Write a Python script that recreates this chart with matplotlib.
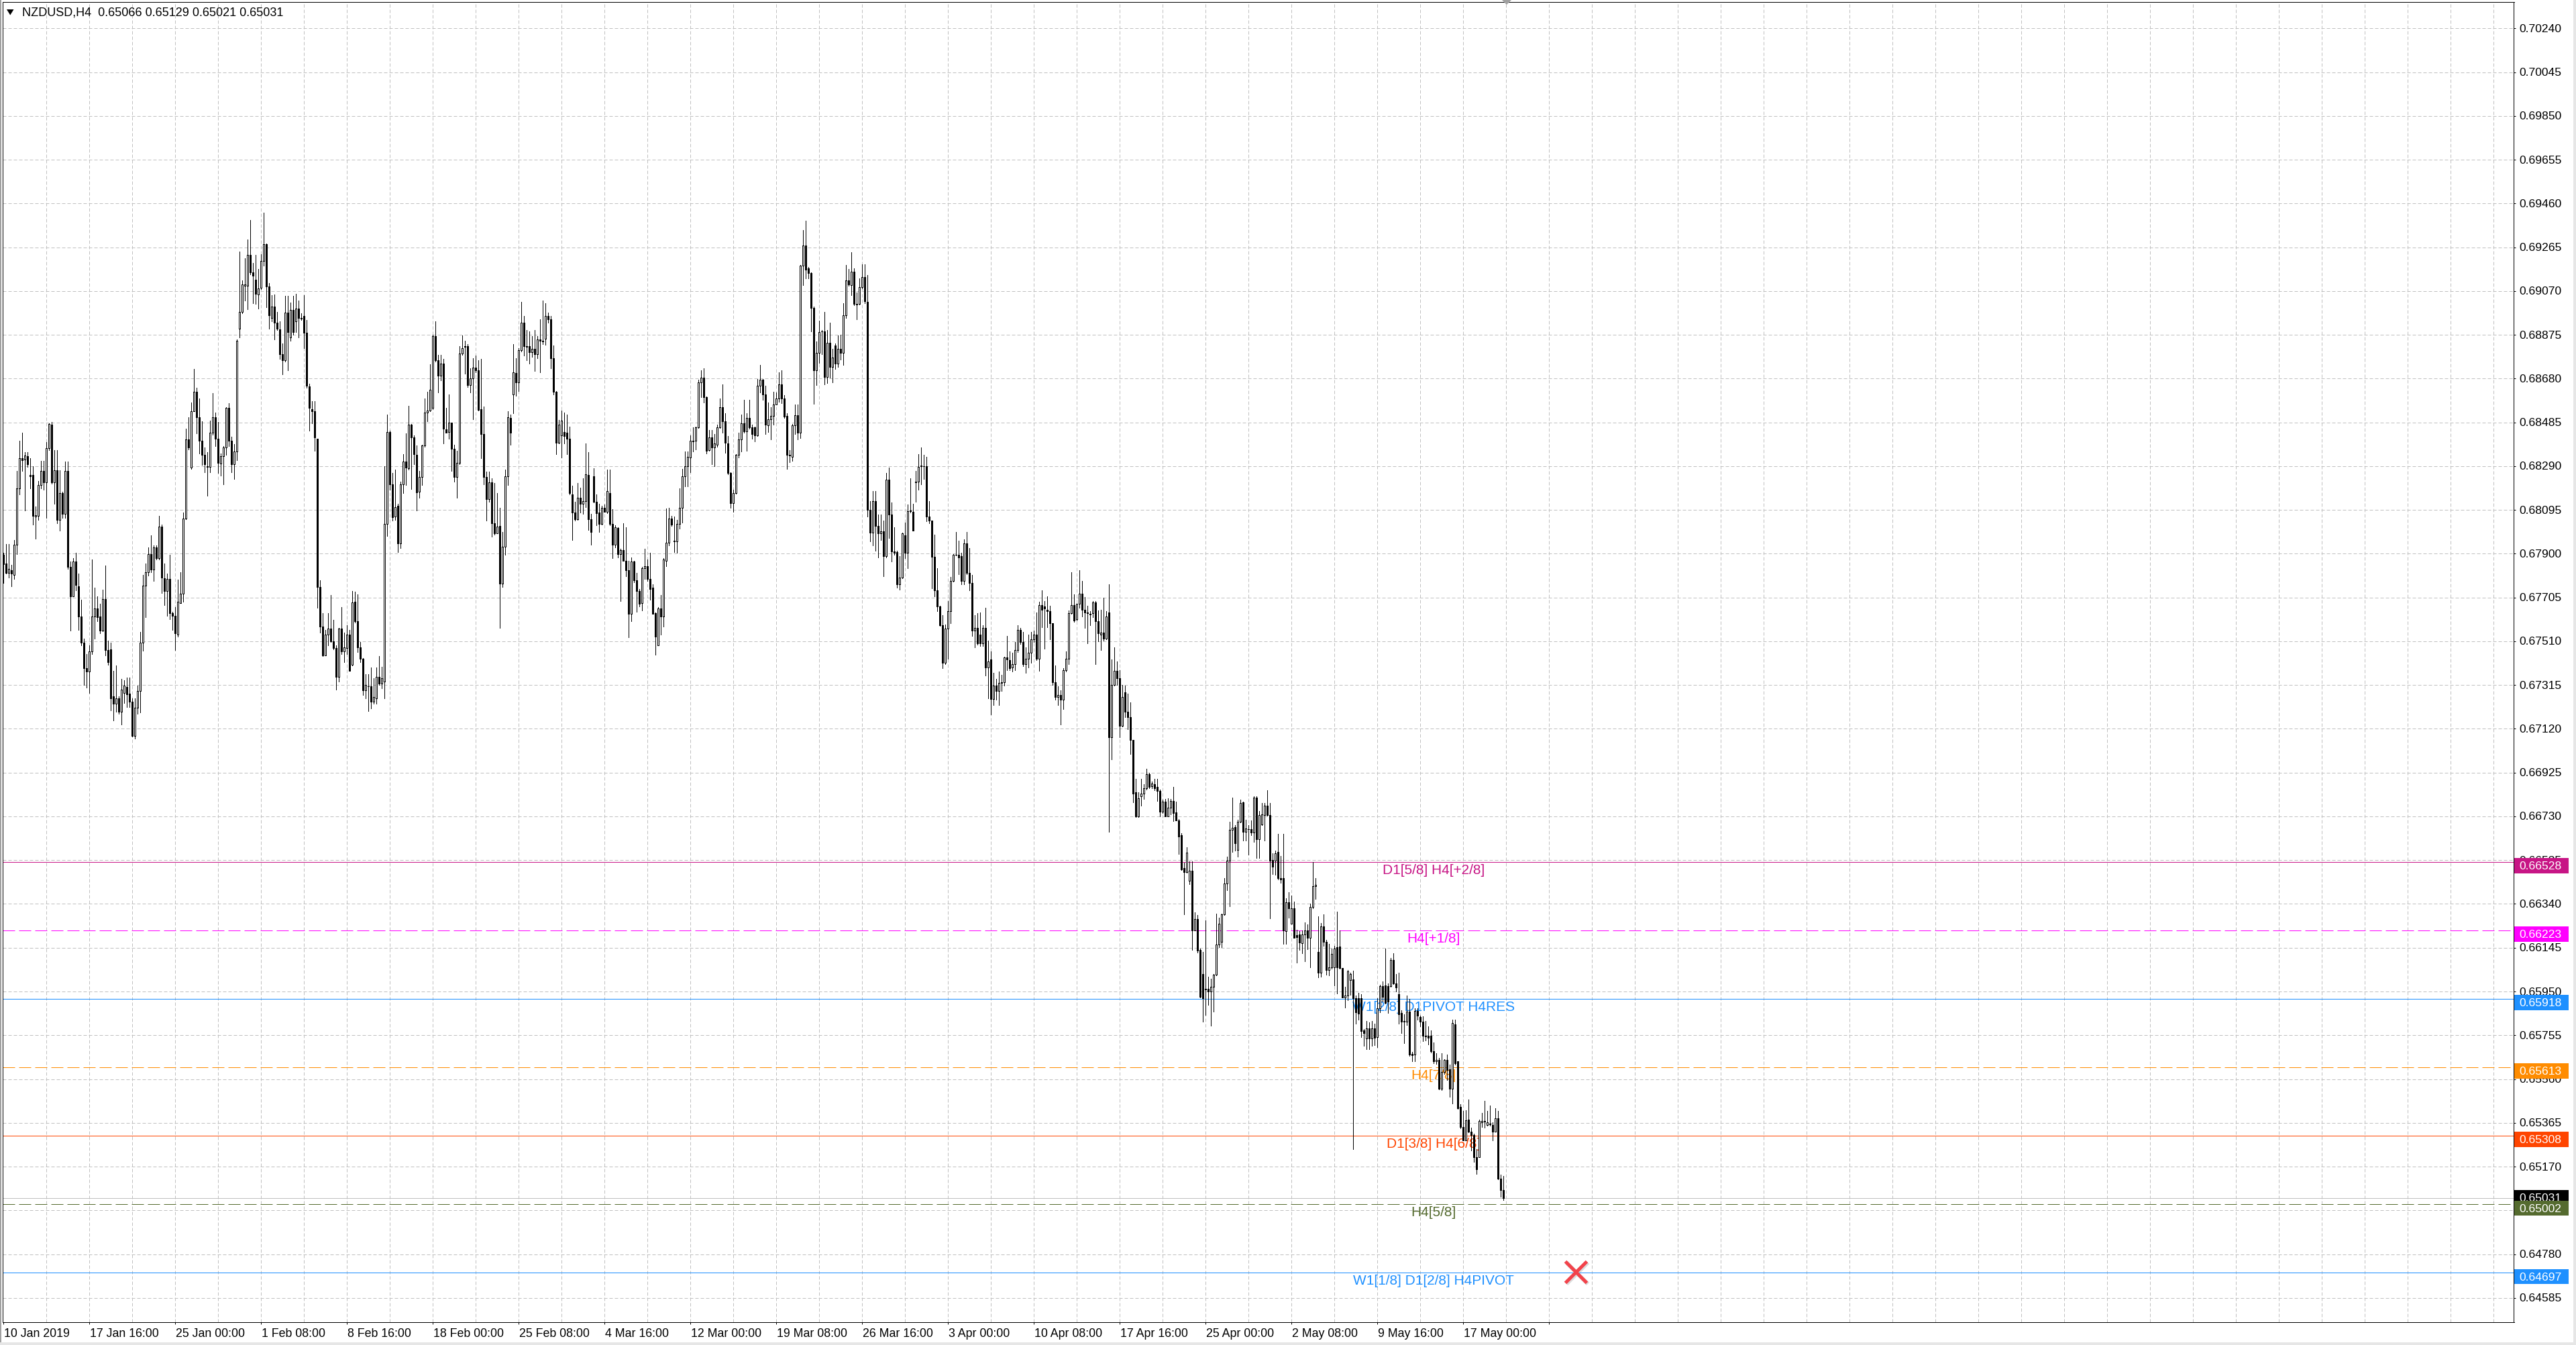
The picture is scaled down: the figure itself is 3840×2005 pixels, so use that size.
import numpy as np
import matplotlib
matplotlib.use("Agg")
import matplotlib.pyplot as plt
from matplotlib import transforms
from matplotlib.patches import Polygon, Rectangle

plt.rcParams['font.family'] = ['Liberation Sans', 'DejaVu Sans']

W, H, DPI = 3840, 2006, 100
PX = 72.0 / DPI          # one screen pixel in points

symbol = "NZDUSD,H4"

# H4 candles, prices in pips (price * 10000)
opens = [
    6789.6, 6785.8, 6781.6, 6782.7, 6780.6, 6794.1, 6819.0, 6832.6, 6832.1, 6833.4,
    6825.1, 6825.1, 6806.5, 6806.8, 6820.6, 6826.8, 6821.7, 6837.0, 6847.4, 6821.7,
    6827.1, 6805.0, 6817.0, 6807.9, 6826.8, 6784.2, 6771.0, 6786.6, 6775.6, 6762.1,
    6750.4, 6739.0, 6737.4, 6746.5, 6762.1, 6765.5, 6762.1, 6755.7, 6769.9, 6747.1,
    6747.5, 6726.5, 6723.1, 6725.7, 6719.5, 6728.1, 6730.7, 6727.6, 6724.2, 6708.9,
    6721.3, 6728.9, 6750.4, 6775.9, 6781.9, 6789.7, 6783.1, 6792.8, 6788.1, 6802.2,
    6779.0, 6773.3, 6778.8, 6763.5, 6762.4, 6754.1, 6768.1, 6772.2, 6805.6, 6840.9,
    6828.4, 6853.6, 6862.2, 6850.8, 6840.4, 6834.1, 6829.0, 6828.7, 6844.0, 6850.8,
    6841.2, 6830.2, 6833.4, 6837.3, 6854.9, 6840.4, 6829.9, 6835.7, 6890.3, 6897.6,
    6909.5, 6909.5, 6923.1, 6915.3, 6912.1, 6905.4, 6908.5, 6920.4, 6927.8, 6909.0,
    6895.0, 6900.1, 6893.0, 6889.8, 6878.9, 6876.2, 6897.3, 6886.4, 6898.6, 6893.4,
    6899.2, 6895.0, 6895.8, 6888.3, 6864.5, 6854.5, 6853.4, 6841.3, 6775.1, 6757.5,
    6744.6, 6754.0, 6756.8, 6751.0, 6747.9, 6735.2, 6756.8, 6746.4, 6747.9, 6754.0,
    6740.4, 6768.7, 6760.1, 6748.4, 6743.1, 6729.1, 6730.9, 6730.9, 6724.1, 6725.6,
    6735.2, 6732.1, 6733.2, 6803.2, 6844.3, 6821.0, 6806.7, 6811.3, 6794.5, 6821.0,
    6831.1, 6828.0, 6847.4, 6841.7, 6834.1, 6817.7, 6824.1, 6838.2, 6853.0, 6853.9,
    6855.0, 6886.9, 6876.3, 6869.4, 6874.7, 6845.4, 6844.3, 6848.4, 6836.7, 6824.1,
    6830.6, 6879.3, 6882.3, 6882.4, 6865.2, 6868.2, 6872.8, 6871.7, 6854.5, 6843.2,
    6824.1, 6814.3, 6821.9, 6803.6, 6799.1, 6802.4, 6776.6, 6793.0, 6824.5, 6850.4,
    6861.1, 6870.6, 6866.4, 6880.8, 6893.0, 6882.4, 6882.4, 6879.8, 6881.3, 6878.9,
    6885.4, 6884.9, 6885.9, 6896.0, 6894.5, 6877.0, 6862.1, 6839.3, 6842.8, 6844.3,
    6843.8, 6841.3, 6816.4, 6808.5, 6805.5, 6814.9, 6812.3, 6813.4, 6825.0, 6805.5,
    6824.5, 6813.1, 6808.4, 6803.3, 6810.5, 6808.6, 6817.0, 6803.3, 6793.9, 6801.4,
    6789.8, 6791.7, 6786.9, 6782.6, 6763.2, 6786.4, 6778.3, 6773.4, 6768.1, 6783.5,
    6784.5, 6778.7, 6774.8, 6763.5, 6749.3, 6765.7, 6762.1, 6786.9, 6795.0, 6805.7,
    6795.8, 6795.6, 6803.3, 6810.5, 6824.6, 6828.9, 6832.9, 6840.2, 6840.2, 6846.2,
    6866.2, 6868.4, 6859.7, 6836.1, 6841.9, 6837.3, 6838.4, 6846.2, 6855.4, 6848.9,
    6839.0, 6826.0, 6812.4, 6817.0, 6834.1, 6840.9, 6848.1, 6844.5, 6850.6, 6846.2,
    6846.2, 6842.8, 6864.8, 6867.4, 6861.1, 6847.1, 6850.0, 6851.5, 6856.4, 6859.3,
    6865.5, 6859.3, 6851.5, 6834.1, 6833.2, 6847.1, 6851.7, 6843.8, 6918.3, 6927.2,
    6917.1, 6915.1, 6899.5, 6871.7, 6879.5, 6888.9, 6889.1, 6868.8, 6883.9, 6873.1,
    6882.8, 6874.6, 6881.4, 6879.5, 6896.3, 6911.8, 6909.6, 6915.7, 6901.2, 6901.2,
    6908.9, 6913.2, 6902.1, 6809.5, 6799.4, 6813.4, 6802.3, 6799.0, 6800.0, 6788.8,
    6823.1, 6807.6, 6791.0, 6790.7, 6776.3, 6779.4, 6798.2, 6790.3, 6809.1, 6808.8,
    6822.0, 6822.0, 6829.0, 6829.0, 6829.0, 6806.6, 6804.8, 6788.7, 6773.7, 6766.5,
    6758.3, 6741.5, 6756.6, 6764.3, 6778.0, 6789.4, 6789.4, 6788.8, 6778.0, 6794.6,
    6781.4, 6777.1, 6755.7, 6756.9, 6754.0, 6750.1, 6756.9, 6739.4, 6742.9, 6725.4,
    6731.2, 6728.8, 6732.6, 6732.9, 6743.7, 6742.5, 6739.4, 6740.8, 6747.1, 6756.2,
    6750.6, 6740.8, 6743.2, 6745.9, 6751.8, 6754.0, 6743.2, 6767.2, 6766.5, 6765.1,
    6764.3, 6759.1, 6732.9, 6726.1, 6727.1, 6724.9, 6738.1, 6743.2, 6763.4, 6767.2,
    6760.8, 6767.7, 6772.3, 6765.1, 6763.7, 6763.1, 6763.4, 6768.2, 6760.0, 6754.0,
    6754.9, 6752.3, 6763.7, 6708.3, 6731.7, 6737.7, 6734.6, 6713.4, 6728.3, 6719.7,
    6717.2, 6707.2, 6683.8, 6673.0, 6682.1, 6683.3, 6685.5, 6691.8, 6686.4, 6687.2,
    6686.0, 6684.3, 6675.2, 6679.5, 6673.0, 6676.9, 6679.9, 6674.7, 6671.3, 6664.5,
    6650.0, 6648.3, 6644.4, 6648.7, 6622.1, 6627.3, 6613.6, 6602.7, 6596.0, 6596.1,
    6594.9, 6597.0, 6602.4, 6615.9, 6617.1, 6629.3, 6643.1, 6653.2, 6667.0, 6668.2,
    6658.2, 6670.7, 6679.3, 6666.1, 6667.4, 6667.4, 6665.7, 6681.5, 6662.7, 6669.5,
    6673.6, 6677.8, 6673.6, 6653.6, 6653.2, 6657.3, 6645.4, 6645.4, 6621.8, 6634.7,
    6625.3, 6632.2, 6620.0, 6620.3, 6616.5, 6620.3, 6622.1, 6618.8, 6632.6, 6641.9,
    6612.7, 6603.3, 6624.0, 6617.1, 6604.6, 6605.8, 6605.8, 6614.6, 6615.0, 6605.4,
    6592.4, 6593.3, 6600.2, 6600.4, 6592.0, 6592.0, 6592.0, 6577.6, 6574.0, 6578.6,
    6574.0, 6578.6, 6574.8, 6587.4, 6597.4, 6597.7, 6597.4, 6597.4, 6609.0, 6598.7,
    6593.9, 6585.4, 6582.0, 6581.6, 6586.1, 6567.3, 6566.9, 6586.4, 6583.6, 6581.6,
    6575.3, 6575.3, 6575.3, 6568.5, 6563.8, 6564.4, 6551.8, 6559.0, 6564.4, 6560.2,
    6551.8, 6580.3, 6563.8, 6543.7, 6534.6, 6528.8, 6538.0, 6532.4, 6531.1, 6521.3,
    6521.3, 6536.8, 6537.2, 6535.5, 6536.0, 6535.5, 6532.6, 6538.4, 6511.6, 6506.6,
]
highs = [
    6790.5, 6794.4, 6794.4, 6785.0, 6796.2, 6826.8, 6840.4, 6844.0, 6835.3, 6835.3,
    6832.6, 6829.1, 6811.2, 6822.5, 6831.5, 6831.5, 6839.6, 6848.2, 6848.6, 6836.2,
    6836.2, 6827.1, 6817.5, 6831.0, 6831.0, 6786.6, 6788.1, 6790.5, 6781.1, 6769.4,
    6752.2, 6745.2, 6749.1, 6787.3, 6774.9, 6771.0, 6767.8, 6774.1, 6784.7, 6751.4,
    6750.4, 6737.9, 6740.1, 6726.5, 6734.3, 6733.8, 6734.8, 6734.8, 6725.7, 6725.7,
    6731.2, 6755.1, 6780.6, 6785.8, 6792.8, 6798.3, 6793.6, 6793.6, 6806.8, 6802.9,
    6785.8, 6781.1, 6789.4, 6764.0, 6766.3, 6778.4, 6781.9, 6808.4, 6845.8, 6850.8,
    6857.5, 6872.4, 6863.8, 6859.1, 6849.0, 6837.3, 6835.3, 6849.3, 6861.7, 6852.9,
    6848.6, 6834.6, 6838.0, 6855.2, 6857.1, 6842.0, 6838.8, 6885.6, 6924.6, 6911.7,
    6921.5, 6930.1, 6938.7, 6919.5, 6923.1, 6916.8, 6923.5, 6941.8, 6928.2, 6910.6,
    6905.1, 6905.4, 6897.6, 6893.4, 6883.6, 6904.8, 6904.8, 6902.0, 6904.8, 6905.9,
    6902.8, 6897.0, 6905.1, 6894.2, 6865.6, 6858.0, 6858.0, 6841.3, 6778.1, 6763.6,
    6756.0, 6763.6, 6771.7, 6760.6, 6749.2, 6757.1, 6766.2, 6755.0, 6758.3, 6756.0,
    6773.5, 6773.0, 6772.0, 6750.7, 6743.4, 6736.2, 6736.2, 6739.3, 6734.7, 6739.3,
    6744.3, 6739.7, 6829.1, 6851.9, 6844.8, 6826.1, 6827.5, 6812.3, 6822.2, 6834.4,
    6843.5, 6856.0, 6847.8, 6842.8, 6838.2, 6826.8, 6838.6, 6859.1, 6862.1, 6874.3,
    6887.7, 6893.5, 6878.5, 6878.5, 6876.7, 6855.0, 6861.1, 6848.4, 6838.6, 6835.9,
    6882.4, 6887.4, 6884.9, 6883.4, 6872.5, 6877.0, 6878.2, 6876.3, 6876.7, 6855.7,
    6826.5, 6826.5, 6823.5, 6821.5, 6816.9, 6810.4, 6799.7, 6827.5, 6853.4, 6851.9,
    6883.4, 6877.0, 6881.6, 6902.1, 6896.0, 6889.5, 6888.9, 6886.9, 6889.5, 6886.9,
    6894.5, 6902.9, 6901.7, 6897.5, 6896.0, 6882.8, 6862.6, 6849.6, 6853.9, 6853.0,
    6851.9, 6846.6, 6820.4, 6813.1, 6821.5, 6819.5, 6823.5, 6839.0, 6835.2, 6807.8,
    6828.0, 6816.4, 6812.3, 6811.5, 6812.0, 6827.4, 6827.4, 6809.8, 6802.6, 6801.8,
    6792.2, 6803.7, 6801.8, 6786.7, 6788.4, 6786.7, 6781.6, 6774.4, 6784.1, 6792.2,
    6787.4, 6790.3, 6776.5, 6763.8, 6766.1, 6771.5, 6788.1, 6810.1, 6810.5, 6806.9,
    6806.6, 6805.2, 6819.2, 6827.9, 6835.5, 6835.5, 6842.8, 6846.2, 6846.7, 6867.4,
    6871.7, 6872.7, 6860.1, 6845.2, 6845.2, 6843.4, 6847.4, 6859.3, 6865.5, 6852.5,
    6842.3, 6826.4, 6818.5, 6834.4, 6843.8, 6852.0, 6858.7, 6852.5, 6858.7, 6847.4,
    6846.7, 6867.9, 6874.2, 6867.9, 6864.8, 6857.5, 6855.4, 6862.2, 6861.9, 6870.8,
    6871.7, 6860.7, 6852.5, 6836.1, 6847.7, 6856.4, 6856.4, 6918.6, 6934.2, 6938.5,
    6917.6, 6915.4, 6900.2, 6884.7, 6893.7, 6889.6, 6897.7, 6889.6, 6893.0, 6881.4,
    6883.6, 6887.2, 6887.6, 6901.6, 6918.6, 6916.8, 6924.3, 6917.1, 6906.4, 6912.8,
    6919.0, 6919.0, 6914.2, 6813.4, 6817.8, 6817.8, 6807.6, 6807.6, 6804.7, 6826.0,
    6828.3, 6812.7, 6801.8, 6791.3, 6788.8, 6799.4, 6804.0, 6812.0, 6823.5, 6812.2,
    6826.8, 6834.5, 6837.4, 6834.0, 6833.3, 6813.4, 6804.8, 6798.5, 6783.6, 6766.8,
    6762.6, 6758.6, 6768.9, 6779.7, 6789.9, 6799.7, 6795.9, 6790.5, 6796.3, 6799.7,
    6792.5, 6780.5, 6762.6, 6763.4, 6763.7, 6758.3, 6766.0, 6751.4, 6746.6, 6736.9,
    6734.3, 6737.4, 6736.0, 6744.2, 6753.5, 6746.6, 6745.9, 6750.6, 6758.3, 6756.9,
    6755.2, 6748.3, 6754.0, 6755.2, 6755.7, 6763.7, 6768.5, 6773.7, 6768.9, 6771.1,
    6766.8, 6759.1, 6740.3, 6730.9, 6729.2, 6739.1, 6746.6, 6764.8, 6781.9, 6772.0,
    6767.7, 6782.6, 6778.0, 6770.6, 6766.8, 6764.3, 6768.9, 6768.9, 6764.8, 6765.1,
    6770.3, 6764.3, 6776.3, 6742.9, 6748.3, 6742.0, 6738.1, 6731.7, 6731.2, 6727.8,
    6723.7, 6707.2, 6689.8, 6683.8, 6689.8, 6687.2, 6694.1, 6692.3, 6688.4, 6689.8,
    6689.8, 6685.0, 6680.4, 6680.9, 6681.2, 6680.9, 6686.0, 6679.5, 6671.8, 6665.5,
    6652.5, 6659.3, 6653.0, 6653.0, 6630.2, 6629.0, 6614.1, 6612.7, 6626.8, 6601.7,
    6600.8, 6602.9, 6629.7, 6627.8, 6629.7, 6645.4, 6655.2, 6670.7, 6681.5, 6669.0,
    6671.5, 6680.5, 6679.5, 6671.5, 6669.2, 6671.1, 6682.0, 6682.0, 6675.5, 6679.0,
    6679.0, 6684.6, 6679.0, 6656.7, 6657.7, 6665.2, 6655.4, 6665.2, 6636.6, 6639.1,
    6637.8, 6635.1, 6622.5, 6621.8, 6622.1, 6625.9, 6625.0, 6634.1, 6652.7, 6645.4,
    6628.4, 6625.5, 6629.3, 6618.0, 6616.2, 6614.2, 6615.2, 6630.6, 6622.1, 6605.4,
    6597.0, 6604.6, 6603.3, 6604.2, 6593.3, 6594.5, 6593.9, 6578.2, 6582.0, 6581.3,
    6582.0, 6580.7, 6592.0, 6597.9, 6599.5, 6614.2, 6598.7, 6610.0, 6612.1, 6602.9,
    6603.3, 6586.6, 6584.9, 6593.3, 6591.6, 6568.2, 6587.6, 6587.6, 6584.1, 6583.8,
    6582.0, 6579.5, 6577.6, 6572.3, 6567.5, 6565.3, 6567.5, 6564.8, 6566.9, 6562.5,
    6582.6, 6582.6, 6564.0, 6544.9, 6541.8, 6542.2, 6546.8, 6534.2, 6531.7, 6524.8,
    6538.0, 6540.9, 6546.4, 6541.8, 6544.3, 6536.8, 6543.0, 6541.8, 6513.5, 6512.9,
]
lows = [
    6777.0, 6781.1, 6779.5, 6775.6, 6778.8, 6789.7, 6816.5, 6826.8, 6809.2, 6828.7,
    6819.0, 6802.9, 6796.7, 6805.0, 6819.0, 6818.5, 6806.0, 6836.2, 6821.2, 6812.3,
    6803.7, 6800.3, 6806.0, 6806.0, 6783.4, 6755.7, 6771.0, 6773.8, 6756.1, 6749.1,
    6731.7, 6730.4, 6728.1, 6745.2, 6752.2, 6760.0, 6754.6, 6755.4, 6744.7, 6740.5,
    6720.2, 6715.6, 6719.5, 6718.7, 6714.0, 6723.4, 6721.8, 6721.8, 6708.6, 6707.8,
    6718.7, 6719.2, 6746.8, 6761.6, 6780.3, 6781.9, 6778.0, 6787.3, 6787.3, 6772.5,
    6767.1, 6762.4, 6760.8, 6756.1, 6747.2, 6753.0, 6768.0, 6768.6, 6805.3, 6836.5,
    6827.9, 6853.6, 6843.5, 6834.6, 6829.5, 6826.3, 6815.9, 6826.3, 6843.0, 6838.0,
    6825.9, 6824.8, 6820.9, 6834.1, 6838.0, 6826.3, 6823.2, 6831.8, 6886.4, 6897.0,
    6902.8, 6898.9, 6914.5, 6901.7, 6901.2, 6899.2, 6908.0, 6918.4, 6899.7, 6890.3,
    6893.4, 6885.6, 6889.5, 6876.7, 6870.0, 6875.5, 6871.6, 6884.8, 6887.7, 6888.7,
    6886.4, 6894.2, 6881.7, 6863.8, 6844.8, 6848.1, 6835.9, 6766.0, 6755.0, 6744.3,
    6744.6, 6749.2, 6750.7, 6747.3, 6729.4, 6733.2, 6745.4, 6741.6, 6745.4, 6737.8,
    6740.1, 6759.5, 6746.1, 6741.6, 6727.1, 6725.6, 6720.0, 6721.0, 6723.3, 6723.3,
    6731.7, 6730.2, 6725.6, 6797.9, 6818.4, 6804.8, 6805.2, 6790.6, 6792.6, 6816.9,
    6820.7, 6827.5, 6818.9, 6829.8, 6809.3, 6814.9, 6820.7, 6837.5, 6848.9, 6853.4,
    6854.5, 6875.5, 6861.8, 6867.1, 6839.0, 6843.8, 6841.3, 6826.8, 6822.2, 6814.9,
    6829.8, 6878.5, 6870.2, 6864.1, 6861.8, 6850.0, 6870.9, 6853.9, 6832.6, 6821.0,
    6804.8, 6813.1, 6797.6, 6798.6, 6799.0, 6757.1, 6775.1, 6789.5, 6820.7, 6838.6,
    6852.7, 6860.3, 6862.6, 6880.0, 6878.2, 6876.3, 6874.7, 6877.8, 6871.3, 6877.0,
    6870.9, 6883.4, 6883.1, 6893.0, 6872.5, 6861.1, 6834.4, 6839.0, 6832.9, 6839.0,
    6834.4, 6816.4, 6796.0, 6804.8, 6805.2, 6808.5, 6807.8, 6810.8, 6800.6, 6794.1,
    6812.8, 6802.8, 6799.7, 6803.0, 6808.6, 6808.1, 6802.6, 6788.1, 6792.7, 6788.4,
    6769.0, 6786.7, 6780.1, 6752.7, 6759.9, 6777.3, 6764.2, 6766.4, 6764.7, 6778.7,
    6778.0, 6769.6, 6763.2, 6745.0, 6749.3, 6754.1, 6757.7, 6784.5, 6793.6, 6802.3,
    6790.7, 6790.3, 6801.1, 6804.0, 6819.9, 6819.9, 6826.4, 6835.5, 6836.6, 6845.9,
    6859.7, 6857.5, 6834.7, 6835.8, 6829.8, 6828.9, 6837.6, 6845.9, 6843.8, 6835.1,
    6825.4, 6810.5, 6808.6, 6816.7, 6832.9, 6835.5, 6843.8, 6835.8, 6845.7, 6841.3,
    6839.9, 6842.3, 6861.9, 6858.7, 6843.4, 6844.2, 6840.9, 6847.4, 6856.4, 6857.8,
    6857.2, 6850.6, 6827.9, 6830.8, 6831.5, 6843.4, 6840.9, 6841.6, 6909.6, 6912.8,
    6912.8, 6889.1, 6856.8, 6865.1, 6874.9, 6878.9, 6865.5, 6865.9, 6868.4, 6866.2,
    6872.3, 6873.1, 6876.6, 6874.2, 6895.1, 6909.3, 6905.3, 6900.6, 6894.4, 6900.9,
    6908.1, 6901.6, 6806.6, 6795.6, 6793.6, 6791.3, 6788.4, 6796.1, 6780.1, 6788.4,
    6797.1, 6786.4, 6789.6, 6774.8, 6773.9, 6779.1, 6788.1, 6783.5, 6808.4, 6800.2,
    6813.1, 6818.5, 6820.8, 6823.3, 6804.5, 6803.6, 6774.5, 6771.1, 6764.3, 6757.9,
    6739.1, 6740.8, 6743.2, 6759.1, 6777.5, 6789.1, 6780.9, 6776.3, 6776.3, 6780.9,
    6773.7, 6753.5, 6748.3, 6749.4, 6748.9, 6748.9, 6735.7, 6725.7, 6718.5, 6722.6,
    6724.9, 6722.6, 6728.8, 6731.2, 6738.1, 6738.1, 6737.4, 6738.1, 6746.3, 6749.7,
    6739.8, 6736.9, 6739.4, 6741.5, 6750.6, 6742.5, 6737.7, 6757.4, 6747.7, 6757.4,
    6751.8, 6731.7, 6724.9, 6722.6, 6713.8, 6720.9, 6737.4, 6740.8, 6763.1, 6759.6,
    6760.3, 6766.0, 6762.0, 6756.9, 6750.1, 6758.3, 6761.7, 6740.8, 6751.1, 6747.1,
    6751.4, 6751.8, 6666.1, 6698.3, 6731.2, 6731.7, 6708.3, 6712.9, 6717.2, 6711.7,
    6700.9, 6679.2, 6672.7, 6672.7, 6677.8, 6680.9, 6685.0, 6685.5, 6685.5, 6684.6,
    6679.9, 6673.0, 6674.4, 6673.0, 6673.0, 6674.0, 6671.0, 6671.3, 6656.4, 6649.0,
    6629.5, 6647.8, 6642.7, 6613.6, 6622.1, 6612.4, 6592.2, 6581.6, 6584.5, 6588.9,
    6579.8, 6586.1, 6602.1, 6614.6, 6614.6, 6629.1, 6640.1, 6633.1, 6657.3, 6657.7,
    6655.2, 6670.2, 6662.3, 6662.3, 6656.1, 6664.5, 6661.7, 6654.4, 6654.4, 6669.2,
    6662.3, 6673.3, 6627.5, 6647.3, 6646.9, 6644.8, 6643.5, 6616.2, 6616.2, 6627.8,
    6625.3, 6618.8, 6608.0, 6613.4, 6612.1, 6608.3, 6613.7, 6605.8, 6632.2, 6636.3,
    6601.2, 6601.7, 6615.2, 6602.4, 6602.1, 6605.2, 6597.7, 6594.1, 6605.2, 6592.4,
    6587.9, 6591.1, 6593.6, 6524.8, 6580.7, 6582.6, 6574.8, 6570.7, 6569.4, 6569.4,
    6570.7, 6571.0, 6570.3, 6585.7, 6590.4, 6589.5, 6585.4, 6597.0, 6598.3, 6594.9,
    6580.7, 6576.6, 6571.9, 6580.1, 6566.3, 6564.0, 6564.0, 6582.6, 6579.5, 6572.8,
    6573.2, 6571.5, 6567.8, 6563.1, 6562.8, 6551.4, 6551.2, 6558.1, 6555.6, 6548.1,
    6545.2, 6562.5, 6542.6, 6533.9, 6528.8, 6528.6, 6532.1, 6524.2, 6519.2, 6513.8,
    6521.1, 6534.6, 6534.2, 6535.1, 6535.1, 6528.6, 6532.4, 6511.3, 6503.5, 6502.1,
]
closes = [
    6785.5, 6781.6, 6783.4, 6781.1, 6794.1, 6819.0, 6832.6, 6831.8, 6833.7, 6829.9,
    6824.5, 6806.8, 6807.1, 6820.6, 6826.8, 6821.7, 6837.0, 6847.7, 6821.7, 6827.1,
    6805.0, 6817.0, 6807.9, 6826.8, 6784.2, 6771.0, 6786.6, 6776.0, 6762.1, 6750.4,
    6739.0, 6737.4, 6746.5, 6762.1, 6765.5, 6761.6, 6755.7, 6769.9, 6747.1, 6741.6,
    6725.7, 6723.1, 6725.7, 6719.5, 6729.6, 6731.2, 6727.3, 6724.2, 6708.9, 6721.3,
    6728.9, 6750.4, 6775.9, 6781.9, 6789.7, 6783.1, 6792.8, 6788.1, 6802.2, 6779.5,
    6773.3, 6778.8, 6763.5, 6762.4, 6754.6, 6768.6, 6772.2, 6805.6, 6840.9, 6837.3,
    6853.6, 6862.2, 6850.8, 6840.4, 6834.1, 6829.9, 6828.7, 6844.0, 6850.8, 6841.2,
    6830.5, 6833.4, 6837.3, 6854.9, 6840.4, 6829.9, 6835.7, 6884.8, 6897.6, 6910.1,
    6910.1, 6923.1, 6915.3, 6913.7, 6905.9, 6908.2, 6920.4, 6927.8, 6909.0, 6896.1,
    6900.1, 6893.0, 6890.3, 6878.9, 6876.2, 6897.3, 6888.7, 6898.6, 6888.7, 6899.2,
    6895.0, 6894.7, 6888.3, 6864.9, 6855.0, 6853.4, 6841.7, 6775.1, 6757.5, 6744.6,
    6754.0, 6756.8, 6751.0, 6747.9, 6735.2, 6756.8, 6746.4, 6748.4, 6754.0, 6737.8,
    6768.2, 6760.1, 6748.4, 6743.1, 6729.1, 6731.7, 6731.0, 6724.1, 6726.1, 6735.2,
    6732.1, 6734.7, 6803.2, 6844.3, 6821.0, 6806.3, 6810.8, 6794.5, 6821.0, 6831.1,
    6828.3, 6847.4, 6841.7, 6834.4, 6817.4, 6824.1, 6838.2, 6853.0, 6853.9, 6863.0,
    6886.9, 6876.3, 6869.4, 6874.7, 6845.8, 6843.8, 6848.4, 6836.7, 6824.1, 6830.6,
    6879.3, 6881.6, 6882.4, 6865.2, 6868.2, 6872.8, 6871.7, 6854.2, 6843.2, 6824.1,
    6814.3, 6821.9, 6803.6, 6799.1, 6802.1, 6776.6, 6793.0, 6824.5, 6850.9, 6843.8,
    6870.9, 6866.4, 6880.8, 6893.0, 6882.4, 6882.2, 6879.8, 6881.3, 6878.9, 6885.4,
    6884.9, 6884.6, 6896.0, 6894.5, 6877.0, 6862.1, 6839.3, 6847.4, 6849.3, 6842.3,
    6841.3, 6816.9, 6808.5, 6805.5, 6814.9, 6812.3, 6813.4, 6825.3, 6805.5, 6799.7,
    6813.1, 6808.2, 6803.3, 6810.5, 6808.6, 6817.8, 6803.3, 6793.9, 6801.8, 6789.8,
    6791.7, 6786.9, 6782.6, 6763.2, 6786.4, 6778.3, 6773.4, 6767.6, 6783.5, 6784.5,
    6778.7, 6774.4, 6763.2, 6753.1, 6765.7, 6762.1, 6787.4, 6795.0, 6805.7, 6802.9,
    6795.6, 6803.3, 6810.5, 6824.6, 6828.9, 6833.2, 6840.2, 6840.0, 6846.2, 6866.2,
    6868.4, 6859.7, 6835.8, 6841.9, 6837.3, 6839.0, 6846.2, 6855.4, 6848.9, 6839.4,
    6826.0, 6812.4, 6817.0, 6834.1, 6840.9, 6848.1, 6844.5, 6850.6, 6846.2, 6843.4,
    6842.8, 6864.8, 6867.6, 6861.1, 6847.4, 6850.0, 6851.5, 6856.4, 6859.3, 6865.5,
    6859.3, 6851.0, 6834.1, 6833.7, 6847.1, 6851.7, 6843.8, 6918.3, 6927.2, 6916.5,
    6915.1, 6899.5, 6871.7, 6879.5, 6888.6, 6889.0, 6868.8, 6883.9, 6873.1, 6877.5,
    6874.6, 6881.4, 6879.5, 6896.3, 6911.8, 6909.9, 6915.7, 6901.2, 6901.0, 6908.9,
    6913.2, 6902.6, 6809.5, 6799.4, 6813.4, 6802.3, 6799.0, 6800.0, 6788.8, 6823.1,
    6807.6, 6791.0, 6790.3, 6776.3, 6779.4, 6799.0, 6790.3, 6809.1, 6809.2, 6800.2,
    6821.8, 6828.8, 6829.2, 6828.9, 6806.6, 6804.8, 6788.7, 6773.7, 6766.5, 6758.3,
    6741.5, 6756.6, 6764.3, 6778.0, 6789.4, 6789.6, 6788.2, 6778.0, 6794.6, 6781.4,
    6777.1, 6755.7, 6756.9, 6750.1, 6750.1, 6756.9, 6739.4, 6742.0, 6725.4, 6731.2,
    6728.8, 6732.6, 6732.9, 6743.7, 6742.9, 6739.1, 6740.8, 6747.1, 6756.2, 6750.6,
    6740.8, 6743.2, 6745.9, 6751.8, 6754.0, 6743.2, 6767.2, 6765.1, 6765.5, 6764.3,
    6759.1, 6732.9, 6726.1, 6727.1, 6724.9, 6738.1, 6743.2, 6763.4, 6767.2, 6760.3,
    6767.7, 6772.3, 6765.1, 6763.7, 6763.5, 6763.0, 6768.2, 6760.0, 6754.5, 6754.9,
    6752.3, 6762.0, 6708.3, 6731.7, 6737.7, 6734.6, 6713.4, 6726.1, 6719.7, 6717.2,
    6707.2, 6683.3, 6673.0, 6681.2, 6683.3, 6685.5, 6691.8, 6686.0, 6687.7, 6685.5,
    6684.3, 6675.2, 6679.5, 6673.0, 6676.9, 6679.9, 6674.4, 6671.3, 6664.1, 6649.5,
    6648.3, 6656.9, 6648.7, 6622.1, 6627.3, 6613.1, 6592.5, 6592.0, 6596.2, 6594.9,
    6597.0, 6602.4, 6615.9, 6625.3, 6629.3, 6643.1, 6653.2, 6667.0, 6668.0, 6661.1,
    6670.7, 6679.0, 6666.1, 6667.6, 6667.2, 6665.7, 6681.5, 6662.7, 6673.6, 6674.0,
    6677.8, 6673.6, 6653.2, 6650.7, 6656.7, 6645.4, 6644.8, 6622.1, 6634.7, 6632.2,
    6632.2, 6619.0, 6619.3, 6616.7, 6620.5, 6622.1, 6618.8, 6632.6, 6641.9, 6642.6,
    6603.3, 6624.0, 6617.1, 6604.6, 6605.8, 6611.7, 6614.2, 6605.8, 6605.4, 6592.4,
    6593.3, 6603.9, 6602.9, 6592.0, 6585.7, 6585.1, 6577.3, 6576.6, 6578.6, 6574.0,
    6578.6, 6574.4, 6587.4, 6597.4, 6592.6, 6589.9, 6590.4, 6609.0, 6598.7, 6596.7,
    6584.9, 6581.6, 6581.6, 6586.1, 6566.9, 6566.5, 6586.4, 6584.1, 6581.6, 6575.3,
    6575.1, 6574.4, 6568.5, 6564.0, 6564.4, 6551.8, 6559.0, 6564.4, 6560.0, 6551.8,
    6581.1, 6563.1, 6543.0, 6534.6, 6528.8, 6537.6, 6532.4, 6531.1, 6521.1, 6515.8,
    6537.4, 6537.4, 6537.0, 6536.8, 6535.9, 6532.4, 6538.4, 6511.6, 6506.6, 6503.1,
]

# time scale labels, one every 32 bars starting at bar 0
time_labels = ["10 Jan 2019", "17 Jan 16:00", "25 Jan 00:00", "1 Feb 08:00",
               "8 Feb 16:00", "18 Feb 00:00", "25 Feb 08:00", "4 Mar 16:00",
               "12 Mar 00:00", "19 Mar 08:00", "26 Mar 16:00", "3 Apr 00:00",
               "10 Apr 08:00", "17 Apr 16:00", "25 Apr 00:00", "2 May 08:00",
               "9 May 16:00", "17 May 00:00"]

price_ticks = [0.70240, 0.70045, 0.69850, 0.69655, 0.69460, 0.69265, 0.69070,
               0.68875, 0.68680, 0.68485, 0.68290, 0.68095, 0.67900, 0.67705,
               0.67510, 0.67315, 0.67120, 0.66925, 0.66730, 0.66535, 0.66340,
               0.66145, 0.65950, 0.65755, 0.65560, 0.65365, 0.65170, 0.64975,
               0.64780, 0.64585]

# murrey math levels drawn on the chart
level_prices = [0.66528, 0.66223, 0.65918, 0.65613, 0.65308, 0.65002, 0.64697]
level_colors = ['#C71585', '#FF00FF', '#1E90FF', '#FF8C00', '#FF4500', '#556B2F', '#1E90FF']
level_dashed = [False, True, False, True, False, True, False]
level_texts = ['D1[5/8] H4[+2/8]', 'H4[+1/8]', 'W1[2/8] D1PIVOT H4RES', 'H4[7/8]',
               'D1[3/8] H4[6/8]', 'H4[5/8]', 'W1[1/8] D1[2/8] H4PIVOT']
text_bar = 533

cross_bar, cross_price = 586, 0.64701

o = np.array(opens) / 1e4
h = np.array(highs) / 1e4
l = np.array(lows) / 1e4
c = np.array(closes) / 1e4
x = np.arange(len(o))

# pixel geometry of the MT4 window
left_px, right_px, top_px, bottom_px = 3.5, 3747.5, 4.0, 1971.5
y_top, y_bot = 0.703577, 0.644783
ppu = (bottom_px - top_px) / (y_top - y_bot)   # pixels per price unit


def fx(px):
    return px / W


def fy(py):
    return 1 - py / H


fig = plt.figure(figsize=(W / DPI, H / DPI), dpi=DPI)
fig.patch.set_facecolor('white')
ax = fig.add_axes([fx(left_px), fy(bottom_px), fx(right_px - left_px), (bottom_px - top_px) / H])
ax.set_facecolor('white')
ax.set_xlim((left_px - 5) / 4, (right_px - 5) / 4)
ax.set_ylim(y_bot, y_top)

# grid
grid_ls = (0, (5, 3))
for p in price_ticks:
    ax.axhline(p, color='#C0C0C0', lw=PX, ls=grid_ls, zorder=0.5)
for b in range(16, 936, 16):
    ax.axvline(b, color='#C0C0C0', lw=PX, ls=grid_ls, zorder=0.5)

# level lines and captions
for p, col, dashed, txt in zip(level_prices, level_colors, level_dashed, level_texts):
    ax.axhline(p, color=col, lw=PX, ls=(0, (18, 6)) if dashed else '-', zorder=1)
    ax.text(text_bar, p - 11.5 / ppu, txt, color=col, fontsize=15,
            ha='center', va='center', zorder=1.5)
bid = c[-1]
ax.axhline(bid, color='#C0C0C0', lw=PX, zorder=1)

# candles
ax.vlines(x, l, h, colors='black', lw=PX, antialiased=False, zorder=2)
body_col = np.where(c >= o, 'white', 'black')
ax.bar(x, np.abs(c - o), 0.5, bottom=np.minimum(o, c), color=body_col,
       edgecolor='black', linewidth=PX, antialiased=False, zorder=3)

# red cross object
ax.plot([cross_bar + 0.5], [cross_price - 2 / ppu], marker='x', ms=32 * PX, mew=6 * PX,
        color='#999999', alpha=0.35, zorder=4)
ax.plot([cross_bar], [cross_price], marker='x', ms=32 * PX, mew=5 * PX,
        color='#F2434B', zorder=4.5)

# frame and ticks
for s in ax.spines.values():
    s.set_color('black')
    s.set_linewidth(PX)
ax.set_xticks(range(0, 577, 32))
ax.set_yticks(price_ticks)
ax.yaxis.set_ticks_position('right')
ax.tick_params(axis='x', length=3 * PX, width=PX, direction='out', labelbottom=False)
ax.tick_params(axis='y', length=3 * PX, width=PX, direction='out', labelright=False, labelleft=False)

tx = transforms.blended_transform_factory(ax.transData, fig.transFigure)
for i, lab in enumerate(time_labels):
    ax.text(i * 32 + 0.2, fy(1988.5), lab, transform=tx, fontsize=12.8,
            ha='left', va='center', clip_on=False)

ty = transforms.blended_transform_factory(fig.transFigure, ax.transData)
for p in price_ticks:
    ax.text(fx(3755.5), p, f"{p:.5f}", transform=ty, fontsize=12.6,
            ha='left', va='center', clip_on=False, zorder=5)

# price labels on the scale: bid first, then objects (later ones on top)
box_specs = [(bid, 'black', 11)] + [(p, col, 17) for p, col in zip(level_prices, level_colors)]
z = 6
for p, col, below in box_specs:
    above = 22 - below
    ax.add_patch(Rectangle((fx(3748), p - below / ppu), fx(81), 22.5 / ppu,
                           transform=ty, facecolor=col, edgecolor='none',
                           clip_on=False, zorder=z))
    ax.text(fx(3755.5), p + (above - below) / 2 / ppu, f"{p:.5f}", transform=ty,
            fontsize=12.6, color='white', ha='left', va='center',
            clip_on=False, zorder=z + 0.5)
    z += 1

# title
title = f"{symbol}  {o[-1]:.5f} {h[-1]:.5f} {l[-1]:.5f} {c[-1]:.5f}"
fig.text(fx(33), fy(19.5), title, fontsize=13, ha='left', va='center')
fig.add_artist(Polygon([(fx(10), fy(15)), (fx(20.5), fy(15)), (fx(15.25), fy(23.5))],
                       closed=True, facecolor='black', edgecolor='none',
                       transform=fig.transFigure))

# chart shift marker and window borders
fig.add_artist(Polygon([(fx(2238), fy(0)), (fx(2254), fy(0)), (fx(2246), fy(8))],
                       closed=True, facecolor='#A0A0A0', edgecolor='none',
                       transform=fig.transFigure))
fig.add_artist(Rectangle((0, fy(1)), 1, 1 / H, facecolor='#A0A0A0', edgecolor='none',
                         transform=fig.transFigure))
fig.add_artist(Rectangle((0, 0), fx(1.5), 1, facecolor='#A0A0A0', edgecolor='none',
                         transform=fig.transFigure))
fig.add_artist(Rectangle((fx(3836), 0), fx(4), 1, facecolor='#E6E6E6', edgecolor='none',
                         transform=fig.transFigure))
fig.add_artist(Rectangle((0, 0), 1, 4 / H, facecolor='#E6E6E6', edgecolor='none',
                         transform=fig.transFigure))

fig.savefig('out.png', dpi=DPI)
